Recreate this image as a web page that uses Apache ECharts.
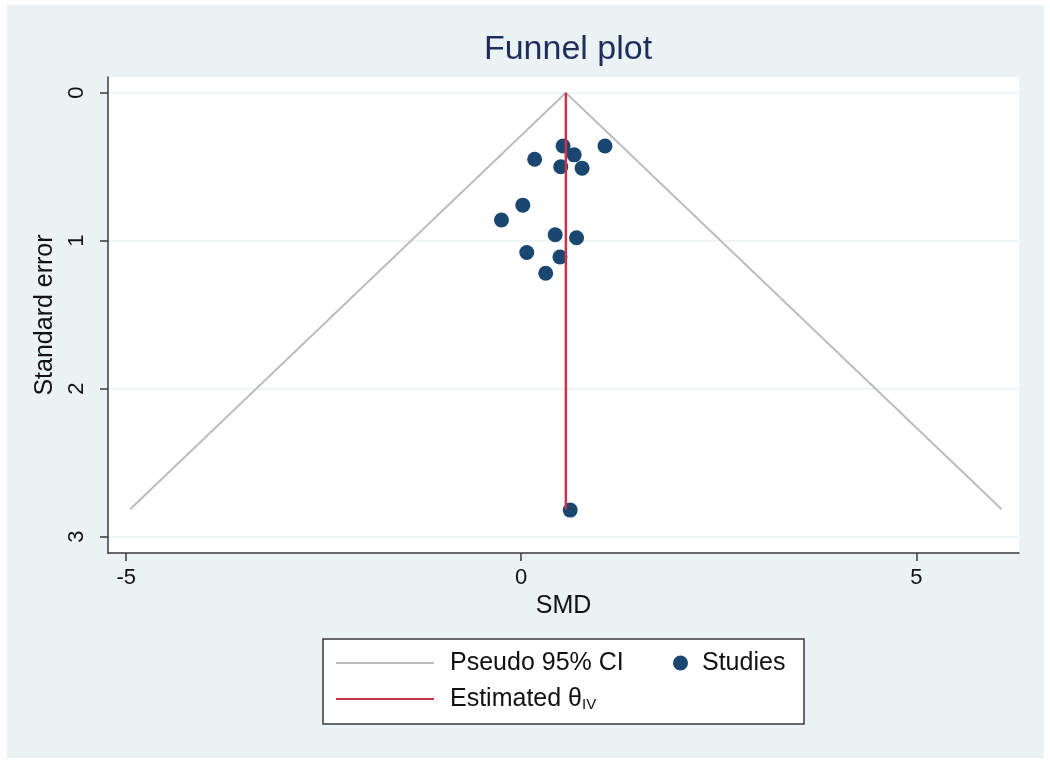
<!DOCTYPE html>
<html>
<head>
<meta charset="utf-8">
<script src="https://cdn.jsdelivr.net/npm/echarts@6/dist/echarts.min.js"></script>
<style>
  html, body { margin: 0; padding: 0; background: #ffffff; }
  #chart { width: 1050px; height: 765px; }
</style>
</head>
<body>
<div id="chart"></div>
<script>
// ---- data ----
const studySMD = [0.53, 1.06, 0.67, 0.17, 0.50, 0.77, 0.02, -0.25, 0.43, 0.70, 0.07, 0.49, 0.31, 0.62];
const studySE  = [0.36, 0.36, 0.42, 0.45, 0.50, 0.51, 0.76, 0.86, 0.96, 0.98, 1.08, 1.11, 1.22, 2.82];
const ciSMD = [-4.95, 0.565, 6.08];
const ciSE  = [2.815, 0, 2.815];
const estSMD = [0.565, 0.565];
const estSE  = [0, 2.815];
const xTicks = [-5, 0, 5];
const yTicks = [0, 1, 2, 3];
const xRange = [-5.23, 6.30];
const yRange = [-0.106, 3.11];

const pair = (xs, ys) => xs.map((x, i) => [x, ys[i]]);

const FONT = '"Liberation Sans", Arial, sans-serif';
const NAVY = '#1A476F';
const RED = '#C8344C';
const GRAY = '#BDBDBD';
const AXIS = '#3a3a3a';

const chart = echarts.init(document.getElementById('chart'), null, { renderer: 'canvas' });
chart.setOption({
  backgroundColor: 'transparent',
  animation: false,
  textStyle: { fontFamily: FONT },
  graphic: [
    { type: 'rect', z: -10, shape: { x: 7, y: 5, width: 1037, height: 753 }, style: { fill: '#EAF2F3' } },
    { type: 'rect', z: 10, shape: { x: 323, y: 639, width: 481, height: 85 }, style: { fill: '#ffffff', stroke: '#3a3a3a', lineWidth: 1.5 } }
  ],
  title: {
    text: 'Funnel plot',
    left: 563, top: 28, textAlign: 'center',
    textStyle: { fontFamily: FONT, fontSize: 34, fontWeight: 'normal', color: '#1E2E5C' }
  },
  grid: {
    left: 108, top: 77, right: 31, bottom: 212,
    show: true, backgroundColor: '#ffffff', borderWidth: 0
  },
  xAxis: {
    type: 'value', min: xRange[0], max: xRange[1],
    name: 'SMD', nameLocation: 'middle', nameGap: 40,
    nameTextStyle: { fontFamily: FONT, fontSize: 25, color: '#111' },
    axisLine: { show: true, onZero: false, lineStyle: { color: AXIS, width: 1.5 } },
    axisTick: { show: true, length: 8, lineStyle: { color: AXIS, width: 1.5 }, customValues: xTicks },
    axisLabel: { fontFamily: FONT, fontSize: 22, color: '#111', margin: 14, customValues: xTicks },
    splitLine: { show: false }
  },
  yAxis: {
    type: 'value', inverse: true, min: yRange[0], max: yRange[1],
    name: 'Standard error', nameLocation: 'middle', nameGap: 49, nameRotate: 90,
    nameTextStyle: { fontFamily: FONT, fontSize: 25, color: '#111' },
    axisLine: { show: true, onZero: false, lineStyle: { color: AXIS, width: 1.5 } },
    axisTick: { show: true, length: 8, lineStyle: { color: AXIS, width: 1.5 }, customValues: yTicks },
    axisLabel: { fontFamily: FONT, fontSize: 22, color: '#111', rotate: 90, margin: 20, customValues: yTicks },
    splitLine: { show: true, lineStyle: { color: '#EAF2F3', width: 1.5 } }
  },
  legend: [
    {
      data: ['Pseudo 95% CI'], left: 335, top: 650, padding: 0,
      itemWidth: 98, itemHeight: 14, itemStyle: { opacity: 0 },
      textStyle: { fontFamily: FONT, fontSize: 25, color: '#111', lineHeight: 26, padding: [0, 0, 0, 11] },
      selectedMode: false, z: 20
    },
    {
      data: ['Studies'], left: 673, top: 650, padding: 0,
      itemWidth: 15, itemHeight: 15,
      textStyle: { fontFamily: FONT, fontSize: 25, color: '#111', lineHeight: 26, padding: [0, 0, 0, 9] },
      selectedMode: false, z: 20
    },
    {
      data: ['Estimated θIV'], left: 335, top: 685, padding: 0,
      itemWidth: 98, itemHeight: 14, itemStyle: { opacity: 0 },
      formatter: () => '{a|Estimated θ}{s|IV}',
      textStyle: {
        fontFamily: FONT, fontSize: 25, color: '#111', padding: [0, 0, 0, 11],
        rich: {
          a: { fontFamily: FONT, fontSize: 25, color: '#111', lineHeight: 26 },
          s: { fontFamily: FONT, fontSize: 15, color: '#111', lineHeight: 15, verticalAlign: 'bottom', padding: [12, 0, 0, 0] }
        }
      },
      selectedMode: false, z: 20
    }
  ],
  series: [
    {
      name: 'Pseudo 95% CI', type: 'line', data: pair(ciSMD, ciSE),
      symbol: 'none', lineStyle: { color: GRAY, width: 2 }, itemStyle: { color: GRAY }, z: 2
    },
    {
      name: 'Studies', type: 'scatter', data: pair(studySMD, studySE),
      symbol: 'circle', symbolSize: 15, itemStyle: { color: NAVY, opacity: 1 }, z: 3
    },
    {
      name: 'Estimated θIV', type: 'line', data: pair(estSMD, estSE),
      symbol: 'none', lineStyle: { color: RED, width: 2.5 }, itemStyle: { color: RED }, z: 4
    }
  ]
});
</script>
</body>
</html>
